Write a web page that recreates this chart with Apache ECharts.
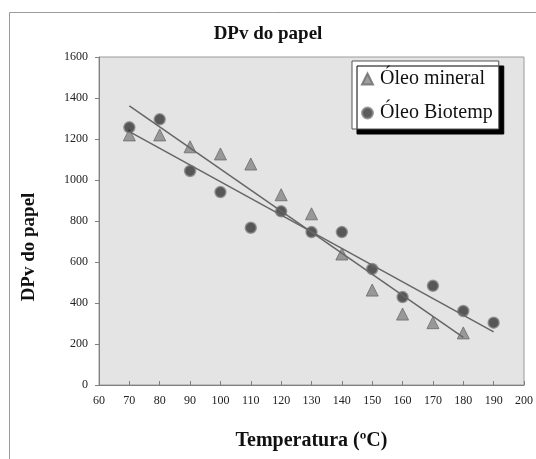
<!DOCTYPE html>
<html>
<head>
<meta charset="utf-8">
<script src="https://cdn.jsdelivr.net/npm/echarts@6/dist/echarts.min.js"></script>
<style>
  html, body { margin: 0; padding: 0; background: #fff; }
  #chart { width: 536px; height: 459px; }
</style>
</head>
<body>
<div id="chart"></div>
<script>
// temperatures (ºC)
const tempMineral = [70, 80, 90, 100, 110, 120, 130, 140, 150, 160, 170, 180]
const dpvMineral = [1220, 1220, 1162, 1127, 1078, 928, 835, 639, 463, 346, 304, 254]
const tempBiotemp = [70, 80, 90, 100, 110, 120, 130, 140, 150, 160, 170, 180, 190]
const dpvBiotemp = [1257, 1296, 1044, 941, 767, 847, 746, 746, 566, 429, 484, 361, 304]
// linear trend lines, end points
const trendMineral = [[70, 1362], [180, 232]]
const trendBiotemp = [[70, 1236], [190, 259]]

const serif = 'Liberation Serif'
const chart = echarts.init(document.getElementById('chart'))

const option = {
  animation: false,
  textStyle: { fontFamily: serif },
  graphic: [
    // outer frame of the chart area (top and left edges visible)
    {
      type: 'rect',
      shape: { x: 9.5, y: 12.5, width: 560, height: 480 },
      style: { fill: 'none', stroke: '#9a9a9a', lineWidth: 1 },
      z: -10
    },
    // y axis title, sits a bit lower than the plot centre
    {
      type: 'text',
      x: 29,
      y: 247,
      rotation: Math.PI / 2,
      style: {
        text: 'DPv do papel',
        fontFamily: serif,
        fontSize: 19,
        fontWeight: 'bold',
        fill: '#111',
        align: 'center',
        verticalAlign: 'middle'
      }
    }
  ],
  title: {
    text: 'DPv do papel',
    left: 'center',
    top: 20,
    textStyle: { fontFamily: serif, fontSize: 19, fontWeight: 'bold', color: '#111' }
  },
  legend: {
    orient: 'vertical',
    left: 352,
    top: 61,
    padding: [8, 6, 6, 9],
    itemGap: 14,
    itemWidth: 11,
    itemHeight: 11,
    backgroundColor: '#fff',
    borderColor: '#555',
    borderWidth: 1,
    shadowColor: '#000',
    shadowBlur: 0,
    shadowOffsetX: 5,
    shadowOffsetY: 5,
    data: ['Óleo mineral', 'Óleo Biotemp'],
    textStyle: { fontFamily: serif, fontSize: 20, color: '#111', padding: [0, 0, 0, 2] }
  },
  grid: {
    left: 99,
    right: 12,
    top: 57,
    bottom: 74,
    show: true,
    backgroundColor: '#e4e4e4',
    borderColor: '#9a9a9a',
    borderWidth: 1
  },
  xAxis: {
    type: 'value',
    min: 60,
    max: 200,
    interval: 10,
    name: 'Temperatura (ºC)',
    nameLocation: 'middle',
    nameGap: 46,
    nameTextStyle: { fontFamily: serif, fontSize: 20, fontWeight: 'bold', color: '#111' },
    axisLine: { show: true, lineStyle: { color: '#808080' } },
    axisTick: { show: true, inside: true, length: 4, lineStyle: { color: '#808080' } },
    axisLabel: { fontFamily: serif, fontSize: 12, color: '#222', margin: 10 },
    splitLine: { show: false }
  },
  yAxis: {
    type: 'value',
    min: 0,
    max: 1600,
    interval: 200,
    axisLine: { show: true, lineStyle: { color: '#808080' } },
    axisTick: { show: true, length: 4, lineStyle: { color: '#808080' } },
    axisLabel: { fontFamily: serif, fontSize: 12, color: '#222', margin: 11, formatter: v => String(v) },
    splitLine: { show: false }
  },
  series: [
    {
      name: 'Óleo mineral',
      type: 'scatter',
      symbol: 'triangle',
      symbolSize: 12,
      data: tempMineral.map((t, i) => [t, dpvMineral[i]]),
      itemStyle: { color: '#858585', borderColor: '#6a6a6a', borderWidth: 1 },
      z: 3
    },
    {
      name: 'Óleo Biotemp',
      type: 'scatter',
      symbol: 'circle',
      symbolSize: 11,
      data: tempBiotemp.map((t, i) => [t, dpvBiotemp[i]]),
      itemStyle: { color: '#333', borderColor: '#8a8a8a', borderWidth: 1.5 },
      z: 3
    },
    {
      name: 'trend mineral',
      type: 'line',
      data: trendMineral,
      symbol: 'none',
      lineStyle: { color: '#666', width: 1.5 },
      z: 4
    },
    {
      name: 'trend biotemp',
      type: 'line',
      data: trendBiotemp,
      symbol: 'none',
      lineStyle: { color: '#666', width: 1.5 },
      z: 4
    }
  ]
}

chart.setOption(option)
</script>
</body>
</html>
